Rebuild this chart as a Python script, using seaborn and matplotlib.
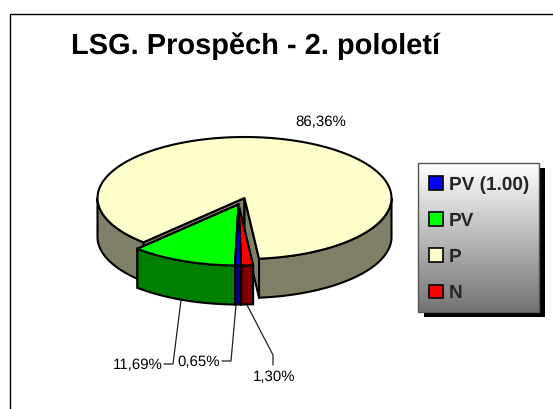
import numpy as np
import seaborn as sns
import matplotlib
matplotlib.use("Agg")
import matplotlib.pyplot as plt
from matplotlib.patches import Polygon, Rectangle, Patch

title = "LSG. Prospěch - 2. pololetí"
categories = ["PV (1.00)", "PV", "P", "N"]
values = [0.65, 11.69, 86.36, 1.30]
value_labels = ["0,65%", "11,69%", "86,36%", "1,30%"]
top_colors = ["#0000FF", "#00FF00", "#FFFFCC", "#FF0000"]
side_colors = ["#000080", "#008000", "#808066", "#800000"]

W, H = 553, 409
RX, RY = 147, 61
DEPTH = 39
START = 271  # degrees, slices run clockwise from here
CENTER_MAIN = (244.5, 198)
CENTER_EXPLODED = (238.5, 204.5)

sns.set_theme(style="white")
plt.rcParams["font.family"] = ["Liberation Sans", "DejaVu Sans"]
plt.rcParams["text.hinting"] = "none"
plt.rcParams["text.hinting_factor"] = 1

fig = plt.figure(figsize=(W / 100, H / 100), dpi=100)
ax = fig.add_axes([0, 0, 1, 1])
ax.set_xlim(0, W)
ax.set_ylim(H, 0)
ax.axis("off")

# outer frame, cut by the right and bottom of the picture
ax.plot([10, 10, W], [H, 14, 14], color="black", lw=1)


def rim(center, a0, a1):
    t = np.radians(np.linspace(a0, a1, 120))
    return np.column_stack([center[0] + RX * np.cos(t), center[1] - RY * np.sin(t)])


def down(pts):
    return pts + [0, DEPTH]


def draw_slice(center, a0, a1, top, side, z):
    # a0 > a1, clockwise; walls only on the part of the rim facing the viewer
    c = np.array(center, dtype=float)
    arc = rim(center, a0, a1)
    for p in (arc[0], arc[-1]):
        wall = np.array([c, p, p + [0, DEPTH], c + [0, DEPTH]])
        ax.add_patch(Polygon(wall, fc=side, ec="black", lw=1.5, zorder=z, joinstyle="round"))
    if a0 > 180 and a1 < 0:
        parts = [rim(center, a0, 180), rim(center, 0, a1)]
    else:
        parts = [rim(center, a0, a1)]
    for lo in parts:
        ax.add_patch(Polygon(np.vstack([lo, down(lo)[::-1]]), fc=side, ec="black", lw=1.5, zorder=z + 0.1))
    ax.add_patch(Polygon(np.vstack([c, arc]), fc=top, ec="black", lw=1.5, zorder=z + 0.2, joinstyle="round"))


angles = START - np.cumsum([0] + values) / sum(values) * 360

# big P slice first, the three pulled-out slices in front of it
draw_slice(CENTER_MAIN, angles[2], angles[3], top_colors[2], side_colors[2], 2)
draw_slice(CENTER_EXPLODED, angles[1], angles[2], top_colors[1], side_colors[1], 3)
draw_slice(CENTER_EXPLODED, angles[3] + 360, angles[4] + 360, top_colors[3], side_colors[3], 4)
draw_slice(CENTER_EXPLODED, angles[0], angles[1], top_colors[0], side_colors[0], 5)

# labels and leader lines
label_kw = dict(fontsize=10.5, color="black", zorder=7, ha="center", va="center")
ax.text(320.5, 122, value_labels[2], **label_kw)
ax.text(137.5, 365, value_labels[1], **label_kw)
ax.text(199, 362, value_labels[0], **label_kw)
ax.text(274.5, 377, value_labels[3], **label_kw)
line_kw = dict(color="#222222", lw=0.9, zorder=6)
ax.plot([181, 173, 164], [300, 364, 364], **line_kw)
ax.plot([236, 231, 222], [305, 361, 361], **line_kw)
ax.plot([247, 273, 273], [305, 355, 365], **line_kw)

ax.text(255.5, 46, title, ha="center", va="center", fontsize=21, fontweight="bold", color="black")

# legend box with its shadow and gradient
BOX = (418, 163, 121, 149)
ax.add_patch(Rectangle((BOX[0] + 6, BOX[1] + 5), BOX[2], BOX[3], fc="black", ec="none", zorder=3))
grad = np.linspace(1, 0.45, 256).reshape(-1, 1)
ax.imshow(grad, cmap="gray", vmin=0, vmax=1, aspect="auto", zorder=4,
          extent=(BOX[0], BOX[0] + BOX[2], BOX[1] + BOX[3], BOX[1]))
ax.set_xlim(0, W)
ax.set_ylim(H, 0)
ax.add_patch(Rectangle(BOX[:2], BOX[2], BOX[3], fc="none", ec="#555555", lw=1, zorder=5))

handles = [Patch(fc=c, ec="black", lw=1.2, label=n) for c, n in zip(top_colors, categories)]
leg = ax.legend(handles=handles, loc="upper left", bbox_to_anchor=(429 / W, 1 - 176 / H),
                bbox_transform=ax.transAxes, frameon=False, handlelength=0.72, handleheight=0.72,
                handletextpad=0.3, labelspacing=0.95, borderpad=0, borderaxespad=0,
                prop=dict(weight="bold", size=14, family="Liberation Sans"))
leg.set_zorder(6)

sns.despine(ax=ax, left=True, bottom=True)
fig.savefig("out.png", dpi=100)
